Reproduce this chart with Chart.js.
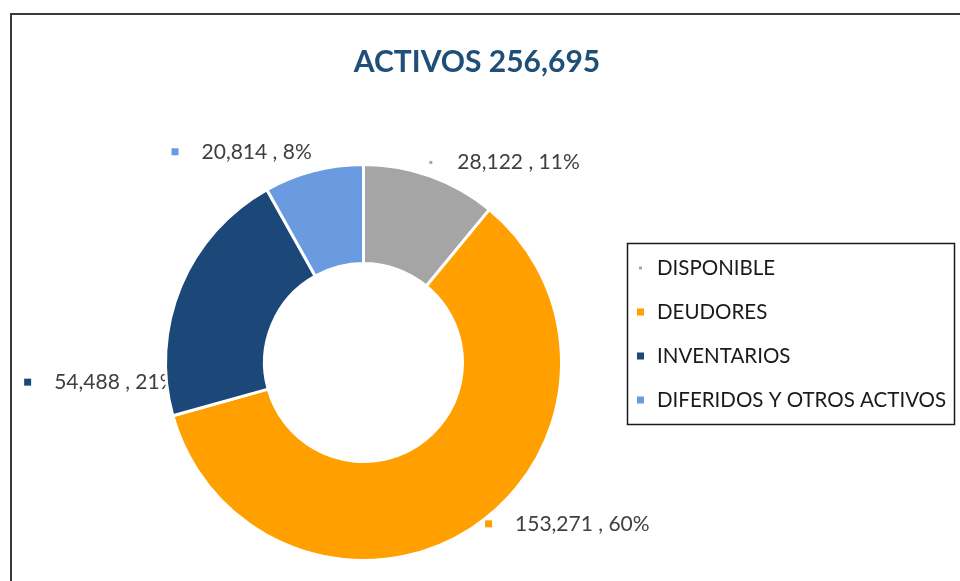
<!DOCTYPE html>
<html>
<head>
<meta charset="utf-8">
<script src="https://cdn.jsdelivr.net/npm/chart.js"></script>
<style>
  body { margin: 0; background: #fff; }
  #wrap { width: 960px; height: 581px; }
</style>
</head>
<body>
<div id="wrap"><canvas id="dona" width="960" height="581"></canvas></div>
<script>
var titulo = "ACTIVOS 256,695";
var categorias = ["DISPONIBLE", "DEUDORES", "INVENTARIOS", "DIFERIDOS Y OTROS ACTIVOS"];
var valores = [28122, 153271, 54488, 20814];
var colores = ["#a5a5a5", "#ffa000", "#1b4878", "#6a9ae0"];

// donde va cada etiqueta: angulo (grados desde arriba, horario), distancia al borde, lado
var posEtiquetas = [
  { ang: 17.7, extra: 12, lado: "izq" },
  { ang: 143, extra: 4, lado: "izq" },
  { ang: 264, extra: -10, lado: "der" },
  { ang: 346.2, extra: 19, lado: "der" }
];
var tamMarcador = [3, 7, 7, 7];

var total = valores.reduce(function (a, b) { return a + b; }, 0);

function textoEtiqueta(i) {
  var pct = Math.round(valores[i] / total * 100);
  return valores[i].toLocaleString("en-US") + " , " + pct + "%";
}

var fuente = "Lato, 'Open Sans', sans-serif";

const decoracion = {
  id: "decoracion",
  beforeDraw(chart) {
    const ctx = chart.ctx;
    ctx.save();
    // marco
    ctx.strokeStyle = "#3a3a3a";
    ctx.lineWidth = 2;
    ctx.strokeRect(11, 14, 1000, 1000);
    // titulo
    ctx.fillStyle = "#1f4e79";
    ctx.font = "bold 30px " + fuente;
    ctx.textAlign = "center";
    ctx.textBaseline = "middle";
    ctx.fillText(titulo, 477, 62);
    ctx.restore();
  },
  beforeDatasetsDraw(chart) {
    // etiquetas de datos (el anillo las tapa un poco, como en el original)
    const ctx = chart.ctx;
    const meta = chart.getDatasetMeta(0);
    ctx.save();
    ctx.font = "21px " + fuente;
    ctx.textBaseline = "middle";
    for (var i = 0; i < meta.data.length; i++) {
      const p = meta.data[i].getProps(["x", "y", "outerRadius"], true);
      const pos = posEtiquetas[i];
      const a = pos.ang * Math.PI / 180;
      const r = p.outerRadius + pos.extra;
      const ax = p.x + r * Math.sin(a);
      const ay = p.y - r * Math.cos(a);
      const txt = textoEtiqueta(i);
      const w = ctx.measureText(txt).width;
      var mx, tx;
      if (pos.lado === "izq") {
        mx = ax;
        tx = ax + 30;
      } else {
        tx = ax - w;
        mx = tx - 30;
      }
      const s = tamMarcador[i];
      ctx.fillStyle = colores[i];
      ctx.fillRect(mx + (7 - s) / 2, ay - s / 2, s, s);
      ctx.fillStyle = "#404040";
      ctx.textAlign = "left";
      ctx.fillText(txt, tx, ay);
    }
    ctx.restore();
  },
  afterDraw(chart) {
    // leyenda con recuadro
    const ctx = chart.ctx;
    ctx.save();
    ctx.strokeStyle = "#1a1a1a";
    ctx.lineWidth = 1.5;
    ctx.strokeRect(627.5, 243.5, 327, 181);
    ctx.font = "20.5px " + fuente;
    ctx.textBaseline = "middle";
    ctx.textAlign = "left";
    for (var i = 0; i < categorias.length; i++) {
      const y = 268 + i * 44;
      const s = tamMarcador[i];
      ctx.fillStyle = colores[i];
      ctx.fillRect(637 + (7 - s) / 2, y - s / 2, s, s);
      ctx.fillStyle = "#1a1a1a";
      ctx.fillText(categorias[i], 657, y);
    }
    ctx.restore();
  }
};

new Chart(document.getElementById("dona"), {
  type: "doughnut",
  data: {
    labels: categorias,
    datasets: [{
      data: valores,
      backgroundColor: colores,
      borderColor: "#ffffff",
      borderWidth: 3,
      hoverBorderWidth: 3
    }]
  },
  options: {
    responsive: false,
    animation: false,
    events: [],
    cutout: "50%",
    layout: {
      padding: { left: 164, right: 397, top: 163, bottom: 19 }
    },
    plugins: {
      legend: { display: false },
      tooltip: { enabled: false },
      title: { display: false }
    }
  },
  plugins: [decoracion]
});
</script>
</body>
</html>
